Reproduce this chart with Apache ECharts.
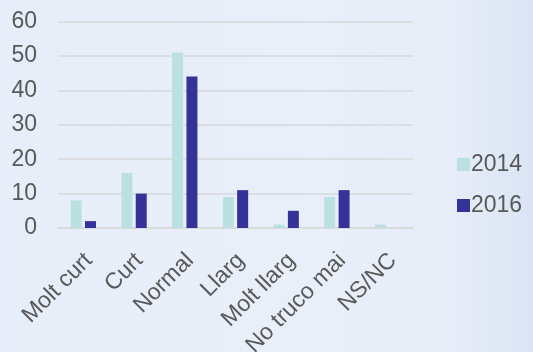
<!DOCTYPE html>
<html>
<head>
<meta charset="utf-8">
<script src="https://cdn.jsdelivr.net/npm/echarts@6/dist/echarts.min.js"></script>
<style>
  html, body { margin: 0; padding: 0; }
  body {
    width: 533px; height: 352px;
    background: linear-gradient(90deg, #e6eef9 0%, #e9eff9 60%, #e6edf8 85%, #dae5f4 100%);
  }
  #chart { width: 533px; height: 352px; }
</style>
</head>
<body>
<div id="chart"></div>
<script>
// Duración percibida, por categoría de respuesta
const categories = ['Molt curt', 'Curt', 'Normal', 'Llarg', 'Molt llarg', 'No truco mai', 'NS/NC'];
const values2014 = [8, 16, 51, 9, 1, 9, 1];
const values2016 = [2, 10, 44, 11, 5, 11, 0];
const yTicks = [0, 10, 20, 30, 40, 50, 60];

const font = '"Liberation Sans", Arial, sans-serif';
const textColor = '#595959';

const chart = echarts.init(document.getElementById('chart'), null, { renderer: 'canvas' });
chart.setOption({
  backgroundColor: 'transparent',
  animation: false,
  grid: { left: 58, right: 120, top: 21.5, bottom: 124, containLabel: false, outerBoundsMode: 'none' },
  legend: {
    orient: 'vertical',
    left: 452,
    top: 148,
    itemWidth: 13,
    itemHeight: 13,
    itemGap: 18,
    icon: 'rect',
    itemStyle: { borderWidth: 0 },
    textStyle: { fontFamily: font, fontSize: 23, color: textColor, padding: [0, 0, 0, -4] },
    data: ['2014', '2016']
  },
  xAxis: {
    type: 'category',
    data: categories,
    axisLine: { show: true, lineStyle: { color: '#d9d9d9', width: 1.5 } },
    axisTick: { show: false },
    axisLabel: {
      rotate: 45,
      interval: 0,
      margin: 18,
      verticalAlign: 'top',
      padding: [0, 4, 0, 0],
      fontFamily: font,
      fontSize: 23,
      color: textColor
    }
  },
  yAxis: {
    type: 'value',
    min: yTicks[0],
    max: yTicks[yTicks.length - 1],
    interval: 10,
    axisLine: { show: false },
    axisTick: { show: false },
    splitLine: { lineStyle: { color: '#d9d9d9', width: 1.5 } },
    axisLabel: { fontFamily: font, fontSize: 23, color: textColor, margin: 21 }
  },
  series: [
    {
      name: '2014',
      type: 'bar',
      data: values2014,
      barWidth: 11,
      barGap: '30%',
      itemStyle: { color: '#bae0e1' }
    },
    {
      name: '2016',
      type: 'bar',
      data: values2016,
      barWidth: 11,
      itemStyle: { color: '#35329a' }
    }
  ]
});
</script>
</body>
</html>
